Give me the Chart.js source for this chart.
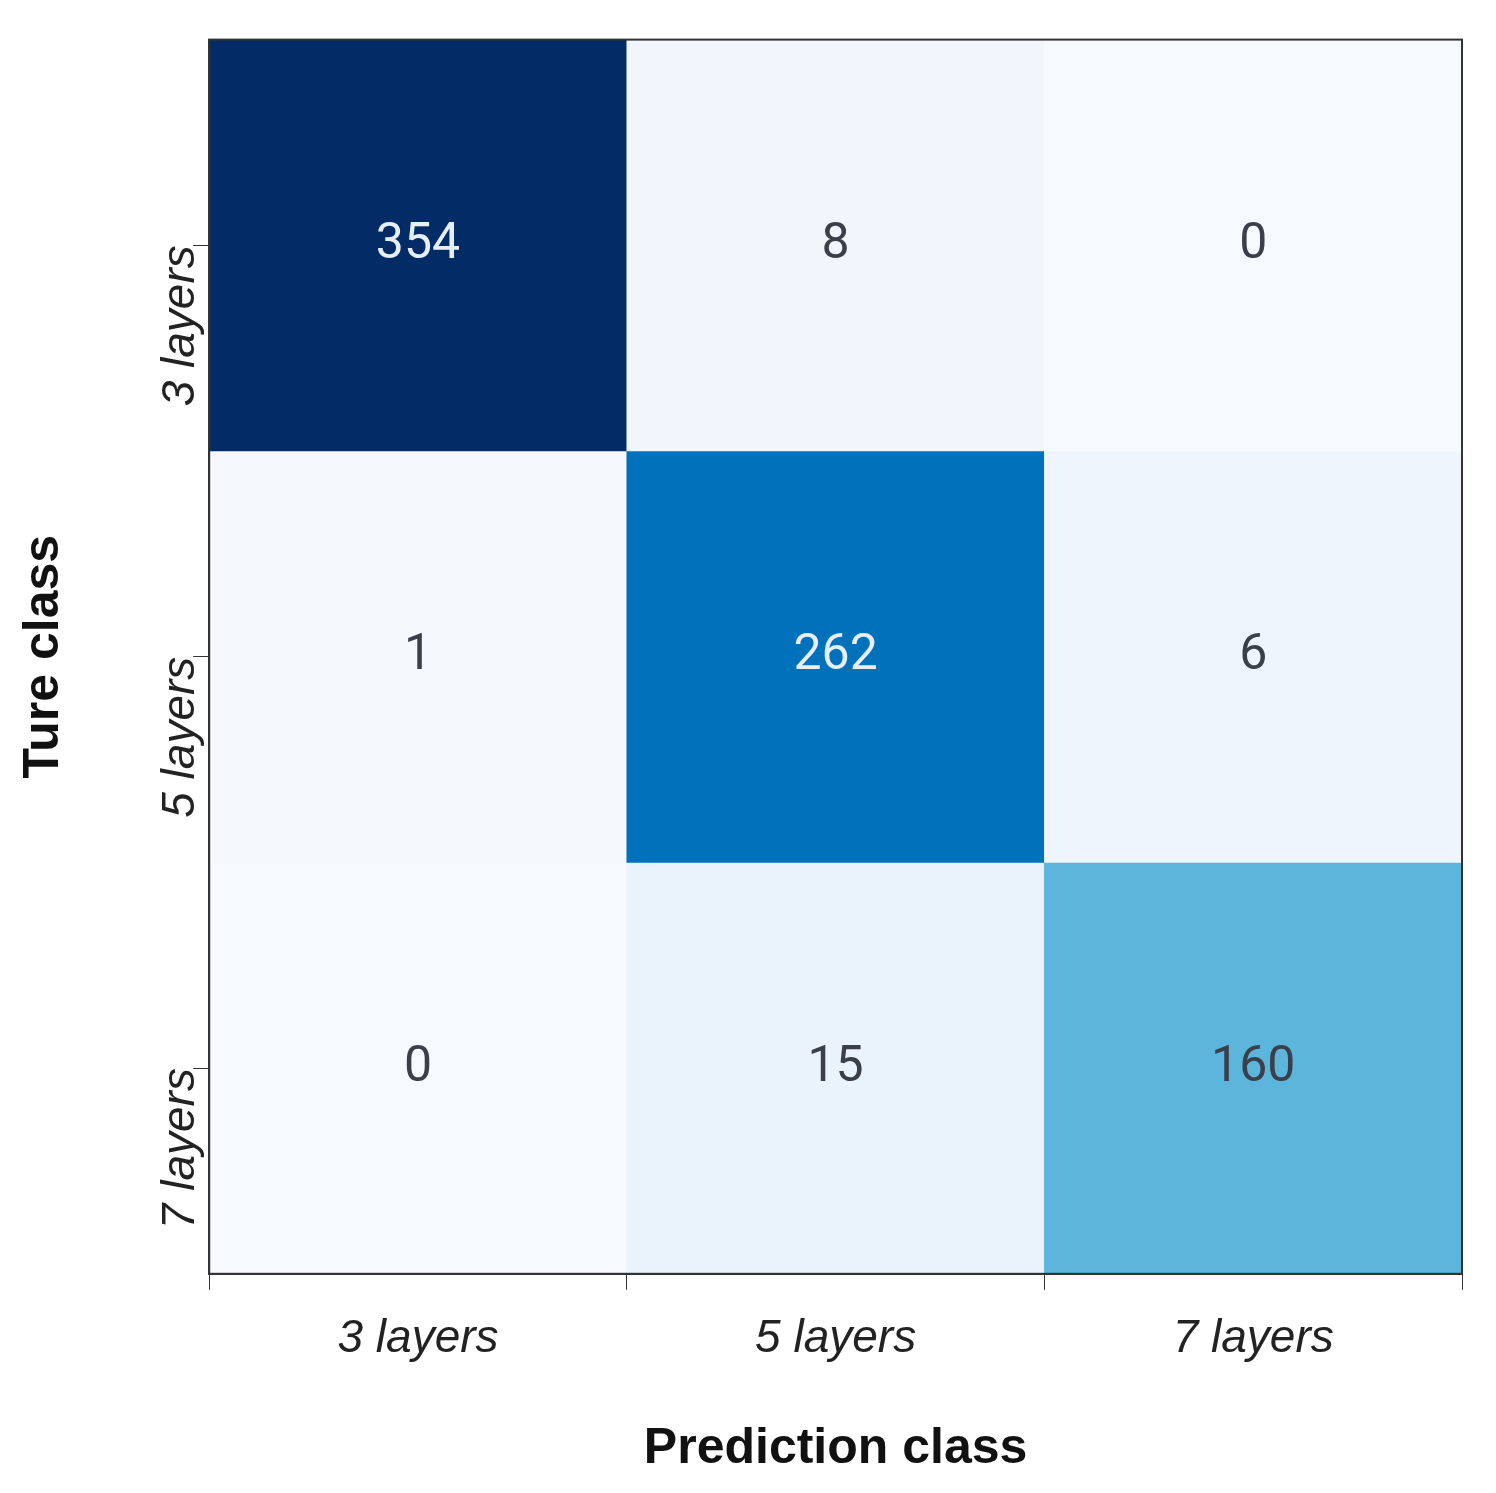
<!DOCTYPE html>
<html>
<head>
<meta charset="utf-8">
<script src="https://cdn.jsdelivr.net/npm/chart.js@4.4.0/dist/chart.umd.min.js"></script>
<style>
  html, body { margin: 0; padding: 0; background: #fff; }
  #wrap { width: 1496px; height: 1493px; }
</style>
</head>
<body>
<div id="wrap"><canvas id="cm"></canvas></div>
<script>
// confusion matrix values
const classes = ['3 layers', '5 layers', '7 layers'];
const matrix = [
  [354, 8, 0],
  [1, 262, 6],
  [0, 15, 160]
];
const cellColors = [
  ['#032c66', '#f1f6fc', '#f6f9fe'],
  ['#f5f9fe', '#0071ba', '#eef5fc'],
  ['#f6f9fe', '#eaf2fb', '#5cb5da']
];

// one dataset per row, floating bars span [row, row+1]
const datasets = matrix.map((row, r) => ({
  data: row.map(() => [r, r + 1]),
  backgroundColor: cellColors[r],
  borderWidth: 0,
  grouped: false,
  barPercentage: 1,
  categoryPercentage: 1
}));

// cell numbers + frame
const cellText = {
  id: 'cellText',
  afterDatasetsDraw(chart) {
    const { ctx, chartArea, scales } = chart;
    ctx.save();
    ctx.font = '50px "Liberation Sans Narrow", "Roboto", sans-serif';
    ctx.textAlign = 'center';
    ctx.textBaseline = 'middle';
    matrix.forEach((row, r) => {
      row.forEach((v, c) => {
        const x = scales.x.getPixelForValue(c);
        const y = scales.y.getPixelForValue(r + 0.5);
        ctx.fillStyle = v > 200 ? '#e6eef8' : '#3a3f4a';
        ctx.fillText(String(v), x, y);
      });
    });
    ctx.strokeStyle = '#333';
    ctx.lineWidth = 2;
    ctx.strokeRect(chartArea.left, chartArea.top, chartArea.right - chartArea.left, chartArea.bottom - chartArea.top);
    ctx.restore();
  }
};

new Chart(document.getElementById('cm'), {
  type: 'bar',
  data: { labels: classes, datasets },
  options: {
    responsive: true,
    maintainAspectRatio: false,
    animation: false,
    layout: { padding: { top: 38, right: 34, left: 10, bottom: 10 } },
    plugins: { legend: { display: false }, tooltip: { enabled: false } },
    scales: {
      x: {
        grid: { drawOnChartArea: false, tickLength: 16, color: '#333', tickColor: '#333' },
        border: { color: '#333', width: 2 },
        ticks: { color: '#222', padding: 22, font: { size: 46, style: 'italic', family: 'Liberation Sans' } },
        title: { display: true, text: 'Prediction class', color: '#111', padding: { top: 30 },
          font: { size: 50, weight: 'bold', family: 'Liberation Sans' } }
      },
      y: {
        type: 'linear', min: 0, max: 3, reverse: true,
        afterBuildTicks(axis) { axis.ticks = [0.5, 1.5, 2.5].map(v => ({ value: v })); },
        grid: { drawOnChartArea: false, tickLength: 16, color: '#333', tickColor: '#333' },
        border: { color: '#333', width: 2 },
        ticks: {
          color: '#222', padding: 12, maxRotation: 90, minRotation: 90,
          font: { size: 46, style: 'italic', family: 'Liberation Sans' },
          callback: v => classes[Math.floor(v)]
        },
        title: { display: true, text: 'Ture class', color: '#111', padding: { bottom: 40 },
          font: { size: 50, weight: 'bold', family: 'Liberation Sans' } }
      }
    }
  },
  plugins: [cellText]
});
</script>
</body>
</html>
